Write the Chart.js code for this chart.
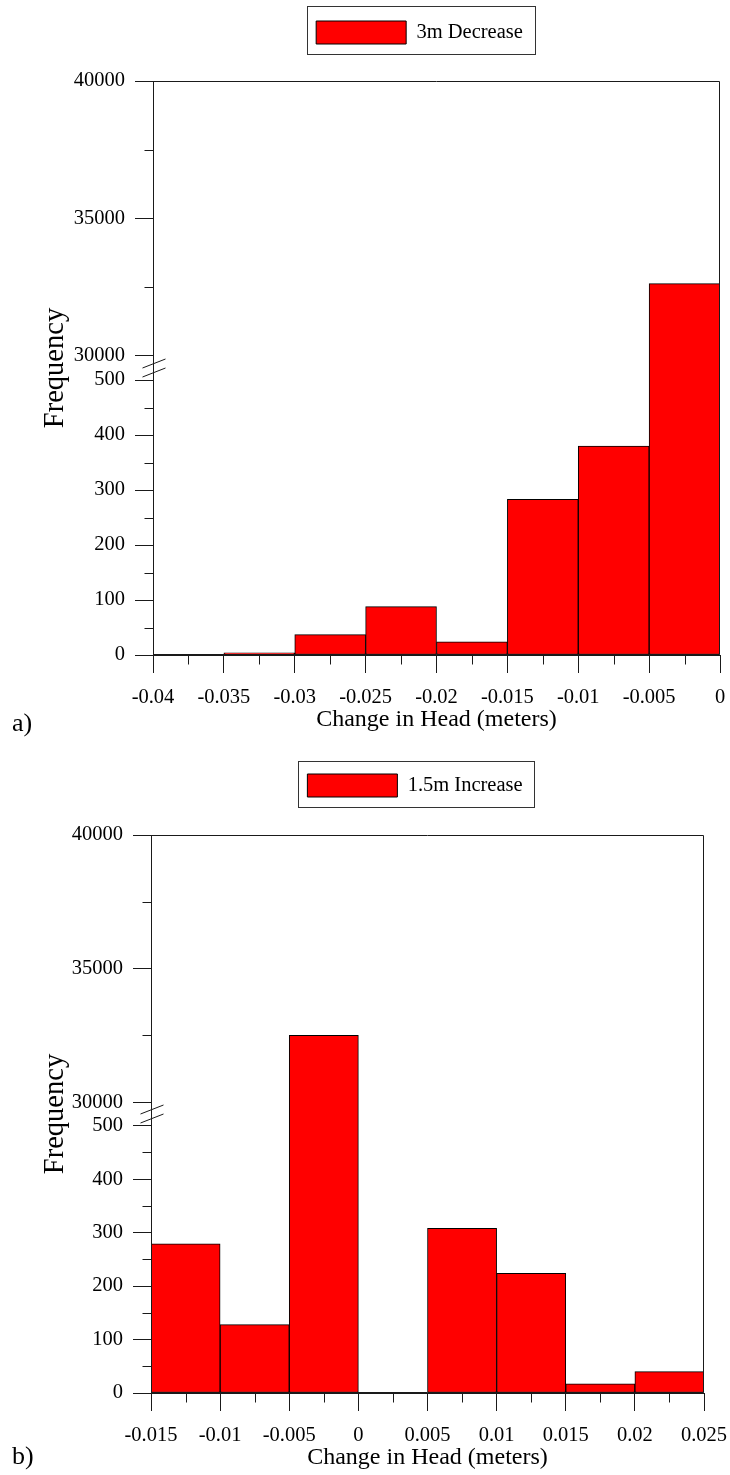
<!DOCTYPE html>
<html>
<head>
<meta charset="utf-8">
<script src="https://cdn.jsdelivr.net/npm/chart.js@4.4.0/dist/chart.umd.min.js"></script>
<style>
  html, body { margin: 0; padding: 0; background: #fff; }
  body { width: 730px; height: 1475px; position: relative; overflow: hidden; }
  .panel { position: absolute; left: 0; width: 730px; }
  #wa { top: 0; height: 745px; }
  #wb { top: 745px; height: 730px; }
  canvas { display: block; }
</style>
</head>
<body>
<div class="panel" id="wa"><canvas id="ca" width="730" height="745"></canvas></div>
<div class="panel" id="wb"><canvas id="cb" width="730" height="730"></canvas></div>
<script>
// ---------------- DATA ----------------
const seriesLabelA = '3m Decrease';
const binCentersA = [-0.0375, -0.0325, -0.0275, -0.0225, -0.0175, -0.0125, -0.0075, -0.0025];
const countsA     = [1, 4, 37, 88, 24, 283, 380, 32630];
const xTicksA     = [-0.04, -0.035, -0.03, -0.025, -0.02, -0.015, -0.01, -0.005, 0];

const seriesLabelB = '1.5m Increase';
const binCentersB = [-0.0125, -0.0075, -0.0025, 0.0025, 0.0075, 0.0125, 0.0175, 0.0225];
const countsB     = [279, 128, 32500, 0, 308, 224, 17, 40];
const xTicksB     = [-0.015, -0.01, -0.005, 0, 0.005, 0.01, 0.015, 0.02, 0.025];

const yTicksLower = [0, 100, 200, 300, 400, 500];
const yTicksUpper = [30000, 35000, 40000];
const xTitle = 'Change in Head (meters)';
const yTitle = 'Frequency';

// ---------------- broken-axis mapping ----------------
const LOW_MAX = 500, HIGH_MIN = 30000, HIGH_MAX = 40000, GAP = 44;
const HIGH_RATIO = (HIGH_MAX - HIGH_MIN) / LOW_MAX;
function toAxis(v) { return v <= LOW_MAX ? v : LOW_MAX + GAP + (v - HIGH_MIN) / HIGH_RATIO; }
function fromAxis(t) { return t <= LOW_MAX + GAP / 2 ? t : HIGH_MIN + (t - LOW_MAX - GAP) * HIGH_RATIO; }
const AXIS_MAX = toAxis(HIGH_MAX);

const SERIF = "'Liberation Serif', 'Times New Roman', serif";
Chart.defaults.font.family = SERIF;
Chart.defaults.color = '#000';
const LINE = '#1a1a1a';

function midpoints(arr) {
  const out = [];
  for (let i = 0; i < arr.length - 1; i++) out.push((arr[i] + arr[i + 1]) / 2);
  return out;
}

const decor = {
  id: 'decor',
  afterLayout(chart, args, o) {
    const lg = chart.legend;
    if (!lg) return;
    const ca = chart.chartArea;
    const cx = (ca.left + ca.right) / 2 + o.legendShift;
    const w = lg.width;
    lg.left = cx - w / 2; lg.right = cx + w / 2;
    const pad = lg.options.labels.padding;
    lg.top = o.legendBoxTop - pad; lg.bottom = lg.top + lg.height;
  },
  afterDatasetsDraw(chart, args, o) {
    const ctx = chart.ctx, ca = chart.chartArea;
    const xs = chart.scales.x, ys = chart.scales.y;
    ctx.save();
    ctx.strokeStyle = LINE; ctx.lineWidth = 1;
    // frame
    const L = Math.round(ca.left) + 0.5, R = Math.round(ca.right) - 0.5;
    const T = Math.round(ca.top) + 0.5, B = Math.round(ca.bottom) - 0.5;
    ctx.beginPath();
    ctx.moveTo(L, B); ctx.lineTo(L, T); ctx.lineTo(R, T); ctx.lineTo(R, B); ctx.lineTo(L, B);
    ctx.stroke();
    // minor x ticks
    ctx.beginPath();
    midpoints(o.xTicks).forEach(v => {
      const px = Math.round(xs.getPixelForValue(v)) + 0.5;
      ctx.moveTo(px, B); ctx.lineTo(px, B + 10);
    });
    // minor y ticks
    const yMinor = midpoints(yTicksLower).concat(midpoints(yTicksUpper));
    yMinor.forEach(v => {
      const py = Math.round(ys.getPixelForValue(toAxis(v))) + 0.5;
      ctx.moveTo(L - 9, py); ctx.lineTo(L, py);
    });
    ctx.stroke();
    // break marks
    const yc = ys.getPixelForValue(LOW_MAX + GAP / 2);
    ctx.beginPath();
    [-4.5, 4.5].forEach(d => {
      ctx.moveTo(L - 11, yc + d + 4.5);
      ctx.lineTo(L + 12, yc + d - 4.5);
    });
    ctx.stroke();
    ctx.restore();
  },
  afterDraw(chart, args, o) {
    const ctx = chart.ctx, lg = chart.legend, ca = chart.chartArea;
    ctx.save();
    // legend frame
    const lab = lg.options.labels;
    ctx.font = `${lab.font.size}px ${SERIF}`;
    const itemW = lab.boxWidth + lab.font.size / 2 + ctx.measureText(chart.data.datasets[0].label).width;
    const cx = (ca.left + ca.right) / 2 + o.legendShift;
    const x0 = cx - itemW / 2;
    const bt = o.legendBoxTop;
    ctx.strokeStyle = '#333'; ctx.lineWidth = 1;
    ctx.strokeRect(Math.round(x0 - 9) + 0.5, Math.round(bt - o.frameTop) + 0.5,
                   Math.round(itemW + 21), Math.round(lab.boxHeight + o.frameTop + 10));
    // panel tag
    ctx.fillStyle = '#000';
    ctx.font = `26px ${SERIF}`;
    ctx.textBaseline = 'alphabetic';
    ctx.textAlign = 'left';
    ctx.fillText(o.tag, 12, o.tagBaseline);
    ctx.restore();
  }
};

function makeChart(id, cfg) {
  return new Chart(document.getElementById(id), {
    type: 'bar',
    data: {
      datasets: [{
        label: cfg.label,
        data: cfg.centers.map((c, i) => ({ x: c, y: toAxis(cfg.counts[i]) })),
        backgroundColor: '#ff0000',
        borderColor: '#000',
        borderWidth: 1,
        borderSkipped: false,
        barPercentage: 1,
        categoryPercentage: 1
      }]
    },
    options: {
      responsive: false,
      animation: false,
      events: [],
      layout: { padding: { top: cfg.padTop, right: cfg.padRight, left: 0, bottom: 0 } },
      plugins: {
        legend: {
          display: true, position: 'top',
          labels: { boxWidth: 90, boxHeight: 23, padding: 10, color: '#000',
                    font: { family: SERIF, size: 20.5 } }
        },
        tooltip: { enabled: false },
        decor: { legendShift: cfg.legendShift, legendBoxTop: cfg.legendBoxTop, frameTop: cfg.frameTop,
                 xTicks: cfg.xTicks, tag: cfg.tag, tagBaseline: cfg.tagBaseline }
      },
      scales: {
        x: {
          type: 'linear',
          min: cfg.xTicks[0], max: cfg.xTicks[cfg.xTicks.length - 1],
          offset: false,
          afterBuildTicks: s => { s.ticks = cfg.xTicks.map(v => ({ value: v })); },
          afterFit: s => { s.height = cfg.xAxisH; s.paddingLeft = 0; s.paddingRight = 0; },
          ticks: { autoSkip: false, maxRotation: 0, padding: 12, color: '#000',
                   font: { family: SERIF, size: 20.5 }, callback: v => String(v) },
          grid: { offset: false, drawOnChartArea: false, drawTicks: true, tickLength: 18, color: LINE },
          border: { display: true, color: LINE },
          title: { display: true, text: xTitle, color: '#000', font: { family: SERIF, size: 24 },
                   padding: { top: 0, bottom: cfg.xTitlePad } }
        },
        y: {
          type: 'linear', min: 0, max: AXIS_MAX,
          afterBuildTicks: s => { s.ticks = yTicksLower.concat(yTicksUpper).map(v => ({ value: toAxis(v) })); },
          afterFit: s => { s.width = cfg.yAxisW; },
          ticks: { autoSkip: false, padding: 10, color: '#000', font: { family: SERIF, size: 20.5 },
                   callback: v => String(Math.round(fromAxis(v))) },
          grid: { drawOnChartArea: false, drawTicks: true, tickLength: 18, color: LINE },
          border: { display: true, color: LINE },
          title: { display: true, text: yTitle, color: '#000', font: { family: SERIF, size: 28.5 },
                   padding: { top: 38, bottom: 0 } }
        }
      }
    },
    plugins: [decor]
  });
}

makeChart('ca', {
  label: seriesLabelA, centers: binCentersA, counts: countsA, xTicks: xTicksA,
  padTop: 38, padRight: 10, yAxisW: 153, xAxisH: 90, xTitlePad: 10.5,
  legendShift: -17, legendBoxTop: 21, frameTop: 15, tag: 'a)', tagBaseline: 731
});
makeChart('cb', {
  label: seriesLabelB, centers: binCentersB, counts: countsB, xTicks: xTicksB,
  padTop: 47, padRight: 26, yAxisW: 151, xAxisH: 82, xTitlePad: 2.5,
  legendShift: -12.5, legendBoxTop: 29, frameTop: 13, tag: 'b)', tagBaseline: 719
});
</script>
</body>
</html>
